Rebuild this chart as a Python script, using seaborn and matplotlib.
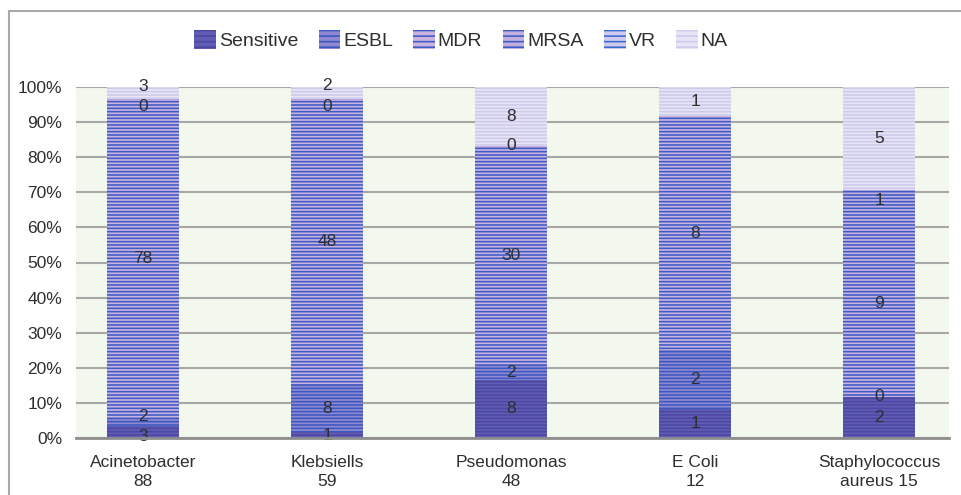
import numpy as np
import pandas as pd
import matplotlib
matplotlib.use("Agg")
import matplotlib.pyplot as plt
from matplotlib.patches import Patch
from matplotlib.lines import Line2D
from matplotlib.ticker import PercentFormatter
import seaborn as sns

# ---- data -------------------------------------------------------------
categories = ["Acinetobacter\n88", "Klebsiells\n59", "Pseudomonas\n48",
              "E Coli\n12", "Staphylococcus\naureus 15"]
series_names = ["Sensitive", "ESBL", "MDR", "MRSA", "VR", "NA"]
sensitive = [3, 1, 8, 1, 2]
esbl = [2, 8, 2, 2, 0]
mdr = [78, 48, 30, 8, 9]
mrsa = [0, 0, 0, None, 1]
vr = [None, None, None, None, None]
na = [3, 2, 8, 1, 5]

# ---- styles -----------------------------------------------------------
face_colors = ["#625cb2", "#9088d2", "#cdb2e0", "#c4aede", "#cfcaee", "#e6e4f5"]
hatch_colors = ["#4a48a4", "#3a58c0", "#3a5cc6", "#3a5cc6", "#3a6ad0", "#cdcaeb"]
HATCH = "-----"

sns.set_style("white")
plt.rcParams["font.family"] = ["Liberation Sans", "DejaVu Sans"]
plt.rcParams["hatch.linewidth"] = 1.15
TEXT = "#2e2e2e"

raw = [sensitive, esbl, mdr, mrsa, vr, na]
values = pd.DataFrame(
    {name: np.array([np.nan if v is None else float(v) for v in col])
     for name, col in zip(series_names, raw)},
    index=categories,
)
totals = values.sum(axis=1, skipna=True)
pct = values.div(totals, axis=0) * 100
cum = pct.fillna(0).cumsum(axis=1)

fig = plt.figure(figsize=(9.61, 4.95), dpi=100)
ax = fig.add_axes([76 / 961, 1 - 438 / 495, (949 - 76) / 961, (438 - 87) / 495])
ax.set_facecolor("#f3f8ee")

# stacked bars: draw cumulative totals from the top series down
for i in reversed(range(len(series_names))):
    name = series_names[i]
    if values[name].isna().all():
        continue
    n_before = len(ax.patches)
    frame = pd.DataFrame({"cat": categories, "cum": cum[name].values})
    sns.barplot(data=frame, x="cat", y="cum", order=categories,
                color=face_colors[i], saturation=1, width=0.39, ax=ax,
                zorder=3)
    for p in ax.patches[n_before:]:
        p.set_facecolor(face_colors[i])
        p.set_edgecolor(hatch_colors[i])
        p.set_hatch(HATCH)
        p.set_linewidth(0)

# data labels, spread apart where neighbours crowd each other
MIN_GAP = 5.8
for j, cat in enumerate(categories):
    labels = []
    for name in series_names:
        v = values.loc[cat, name]
        if pd.isna(v):
            continue
        top = cum.loc[cat, name]
        mid = top - pct.loc[cat, name] / 2
        labels.append([mid, f"{int(v)}"])
    for k in range(1, len(labels)):
        gap = labels[k][0] - labels[k - 1][0]
        if gap < MIN_GAP:
            m = (labels[k][0] + labels[k - 1][0]) / 2
            labels[k - 1][0] = m - MIN_GAP / 2
            labels[k][0] = m + MIN_GAP / 2
    for y, txt in labels:
        ax.text(j, y, txt, ha="center", va="center", fontsize=12.5,
                color=TEXT, zorder=5)

ax.set_xlim(-0.365, 4.38)
ax.set_ylim(0, 100)
ax.set_xticks(range(len(categories)))
ax.set_xticklabels(categories, linespacing=1.4)
ax.set_yticks(np.arange(0, 101, 10))
ax.yaxis.set_major_formatter(PercentFormatter(decimals=0))
ax.grid(axis="y", color="#a8a8a8", linewidth=1.5, zorder=1)
ax.grid(axis="x", visible=False)
ax.set_axisbelow(True)
for side in ["top", "right", "left"]:
    ax.spines[side].set_visible(False)
ax.spines["bottom"].set_color("#8e8e8e")
ax.spines["bottom"].set_linewidth(2)
ax.spines["bottom"].set_zorder(6)
ax.tick_params(axis="both", length=0, labelsize=12.5, colors=TEXT)
ax.tick_params(axis="y", pad=10)
ax.tick_params(axis="x", pad=12)
ax.set_xlabel("")
ax.set_ylabel("")

handles = [Patch(facecolor=face_colors[i], edgecolor=hatch_colors[i],
                 hatch="---", linewidth=0, label=series_names[i])
           for i in range(len(series_names))]
fig.legend(handles=handles, loc="center", ncol=6, frameon=False,
           bbox_to_anchor=(461 / 961, 1 - 40 / 495), fontsize=14,
           handlelength=1.1, handleheight=1.15, handletextpad=0.15,
           columnspacing=1.06, labelcolor=TEXT)

# outer chart border
fig.add_artist(Line2D([9 / 961, 1.0], [1 - 11 / 495] * 2,
                      transform=fig.transFigure, color="#a9a9a9", lw=1.5))
fig.add_artist(Line2D([9 / 961] * 2, [0.0, 1 - 11 / 495],
                      transform=fig.transFigure, color="#a9a9a9", lw=1.5))

fig.savefig("out.png", dpi=100)
